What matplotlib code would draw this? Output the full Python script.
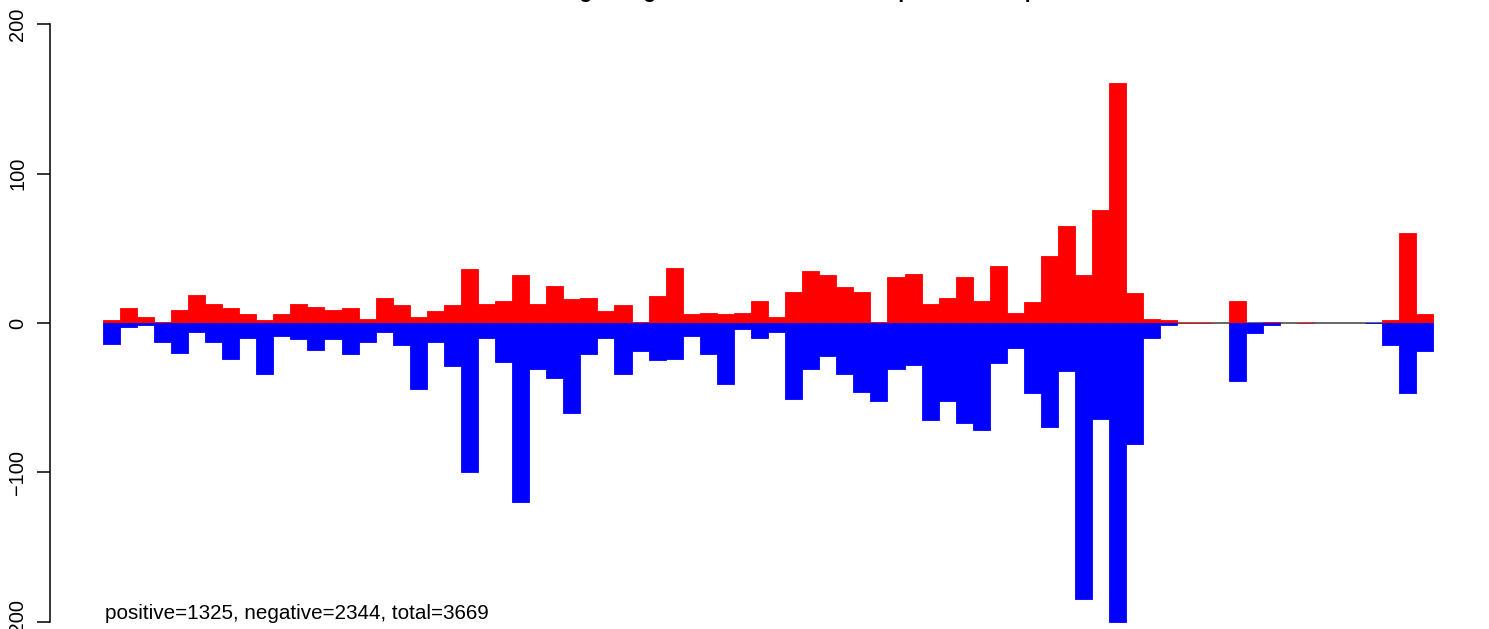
import numpy as np
import matplotlib
matplotlib.use('Agg')
import matplotlib.pyplot as plt

plt.rcParams['font.family'] = ['Liberation Sans', 'DejaVu Sans']

nan = np.nan

# counts per bin (red = positive, blue = negative), nan = no bar
positive = [2, 10, 4, 1, 9, 19, 13, 10, 6, 2,
            6, 13, 11, 9, 10, 3, 17, 12, 4, 8,
            12, 36, 13, 15, 32, 13, 25, 16, 17, 8,
            12, 1, 18, 37, 6, 7, 6, 7, 15, 4,
            21, 35, 32, 24, 21, 1, 31, 33, 13, 17,
            31, 15, 38, 7, 14, 45, 65, 32, 76, 161,
            20, 3, 2, 0, 0, nan, 15, nan, 1, nan,
            0, nan, nan, nan, nan, 2, 60, 6]
negative = [-14, -3, -1, -13, -20, -6, -13, -24, -10, -34,
            -9, -11, -18, -11, -21, -13, -6, -15, -44, -13,
            -29, -100, -10, -26, -120, -31, -37, -60, -21, -10,
            -34, -19, -25, -24, -9, -21, -41, -4, -10, -6,
            -51, -31, -22, -34, -46, -52, -31, -28, -65, -52,
            -67, -72, -27, -17, -47, -70, -32, -185, -64, -200,
            -81, -10, -1, nan, nan, nan, -39, -7, -1, nan,
            nan, nan, nan, nan, 0, -15, -47, -19]
yticks = [-200, -100, 0, 100, 200]
summary = 'positive=1325, negative=2344, total=3669'
title = 'Differential binding and gene totals in the bins: up and down per 100 kb bin'

W, H = 1489, 629
fig = plt.figure(figsize=(W / 100, H / 100), dpi=100)
ax = fig.add_axes([50 / W, 0, 1 - 50 / W, 1])

x = np.arange(len(positive))
# zero line under the bars
ax.hlines(0, 0, len(positive), color='#4d4d4d', linewidth=1.2, zorder=1)
ax.bar(x, positive, width=1, align='edge', color='#ff0000',
       edgecolor='#ff0000', linewidth=0.6, zorder=2)
ax.bar(x, negative, width=1, align='edge', color='#0000ff',
       edgecolor='#0000ff', linewidth=0.6, zorder=3)

ax.set_xlim(-3.087, 81.26)
ax.set_ylim(-205.0, 216.4)

# R style axis: only the left one, limited to the tick range
for s in ['top', 'right', 'bottom']:
    ax.spines[s].set_visible(False)
ax.spines['left'].set_bounds(-200, 200)
ax.spines['left'].set_linewidth(1.1)
ax.set_xticks([])
ax.set_yticks(yticks)
ax.set_yticklabels([str(v).replace('-', '\u2212') for v in yticks])
ax.tick_params(axis='y', length=9.5, width=1.1, pad=7, labelsize=14.4, labelrotation=90)
for lab in ax.get_yticklabels():
    lab.set_va('center')

fig.text(105 / W, 1 - 619 / H, summary, fontsize=14.9, va='baseline', ha='left')
# title sits above the top edge, only descenders show
fig.text(783 / W, 1 + 2.5 / H, title, fontsize=15.6, fontweight='bold',
         ha='center', va='baseline')

fig.savefig('out.png', dpi=100)
